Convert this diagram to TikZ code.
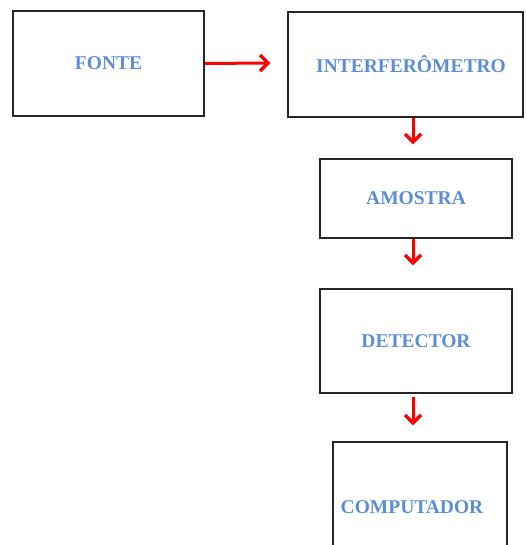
\documentclass[tikz,border=0pt]{standalone}
\usepackage{fontspec}
\setmainfont{Liberation Serif}
\usetikzlibrary{calc}
\definecolor{txtblue}{HTML}{5B8ED6}
\tikzset{
  blk/.style={draw=black!85, line width=2pt, rectangle, inner sep=0pt, anchor=north west,
    font=\fontsize{19.5}{22}\selectfont\bfseries, text=txtblue},
  redline/.style={draw=red, line width=3pt},
  redhead/.style={draw=red, line width=3.5pt, miter limit=3}
}
\begin{document}
\begin{tikzpicture}[x=1pt,y=-1pt]
\useasboundingbox (0,0) rectangle (525,545);
\clip (0,0) rectangle (525,545);
\node[blk, minimum width=191pt, minimum height=105pt] (fonte) at (12,10) {FONTE};
\node[blk, minimum width=235pt, minimum height=105pt] (interf) at (287,11) {\hspace*{11pt}INTERFERÔMETRO};
\node[blk, minimum width=192pt, minimum height=79pt] (amostra) at (319,158) {AMOSTRA};
\node[blk, minimum width=192pt, minimum height=104pt] (detector) at (319,288) {DETECTOR};
\node[blk, minimum width=174pt, minimum height=130pt] (comp) at (332,441) {COMPUTADOR\hspace*{16pt}};
\coordinate (a1) at (413,116);
\coordinate (t0) at (268,63);
\coordinate (t1) at (413,142);
\coordinate (t2) at (413,263);
\coordinate (s3) at (413,397);
\coordinate (t3) at (413,423);
\draw[redline] (fonte.east) -- (t0);
\draw[redhead] ($(t0)+(-8,-8)$) -- (t0) -- ($(t0)+(-8,8)$);
\draw[redline] (interf.south -| a1) -- (t1);
\draw[redhead] ($(t1)+(-8,-8)$) -- (t1) -- ($(t1)+(8,-8)$);
\draw[redline] (amostra.south -| a1) -- (t2);
\draw[redhead] ($(t2)+(-8,-8)$) -- (t2) -- ($(t2)+(8,-8)$);
\draw[redline] (s3) -- (t3);
\draw[redhead] ($(t3)+(-8,-8)$) -- (t3) -- ($(t3)+(8,-8)$);
\end{tikzpicture}
\end{document}
